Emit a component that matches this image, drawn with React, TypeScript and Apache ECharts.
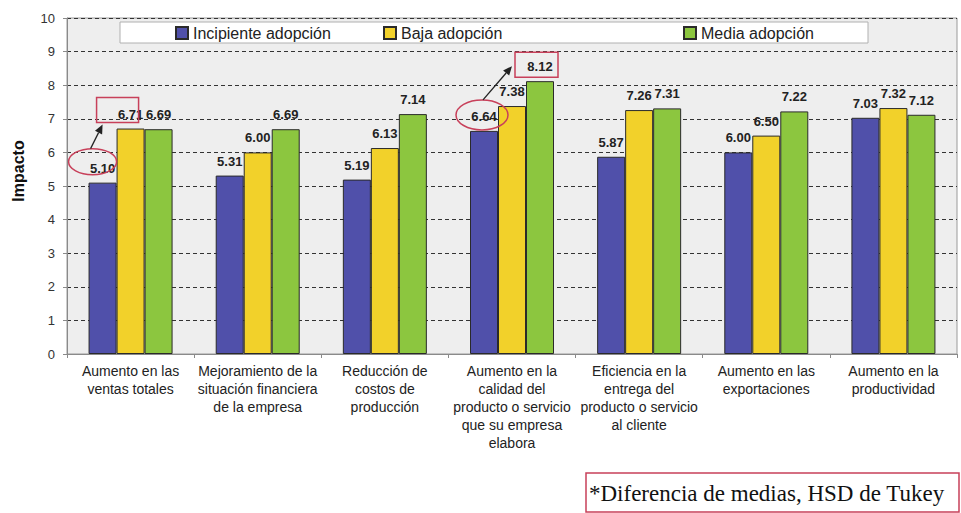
import React, { useEffect, useRef } from "react";
import * as echarts from "echarts";

const categories = [
  "Aumento en las\nventas totales",
  "Mejoramiento de la\nsituación financiera\nde la empresa",
  "Reducción de\ncostos de\nproducción",
  "Aumento en la\ncalidad del\nproducto o servicio\nque su empresa\nelabora",
  "Eficiencia en la\nentrega del\nproducto o servicio\nal cliente",
  "Aumento en las\nexportaciones",
  "Aumento en la\nproductividad",
];
const seriesNames = ["Incipiente adopción", "Baja adopción", "Media adopción"];
const incipiente = [5.1, 5.31, 5.19, 6.64, 5.87, 6.0, 7.03];
const baja = [6.71, 6.0, 6.13, 7.38, 7.26, 6.5, 7.32];
const media = [6.69, 6.69, 7.14, 8.12, 7.31, 7.22, 7.12];
const yMin = 0;
const yMax = 10;
const yInterval = 1;
const yAxisTitle = "Impacto";
const noteText = "*Diferencia de medias, HSD de Tukey";
// highlighted comparisons: [category index, from series, to series]
const highlights = [
  [0, 0, 1],
  [3, 0, 2],
];

const colors = ["#5050AA", "#F2D12A", "#8CC63F"];
const RED = "#C8405A";
const BAR_W = 28;

export default function App() {
  const ref = useRef<HTMLDivElement>(null);
  useEffect(() => {
    if (!ref.current) return;
    const chart = echarts.init(ref.current, undefined, { renderer: "svg" });
    const values = [incipiente, baja, media];
    const legendLefts = [175, 383, 683];
    chart.setOption({
      animation: false,
      grid: {
        left: 67,
        right: 4,
        top: 18,
        bottom: 159,
        show: true,
        backgroundColor: "#EEEEEE",
        borderColor: "#9A9A9A",
        borderWidth: 1,
      },
      legend: seriesNames.map((n, i) => ({
        data: [n],
        left: legendLefts[i],
        top: 25,
        padding: 0,
        icon: "rect",
        itemWidth: 12,
        itemHeight: 12,
        z: 5,
        textStyle: { fontFamily: "Arial, Liberation Sans", fontSize: 16, color: "#222" },
      })),
      xAxis: {
        type: "category",
        data: categories,
        axisLine: { lineStyle: { color: "#8A8A8A" } },
        axisTick: { show: true, length: 4, lineStyle: { color: "#8A8A8A" } },
        axisLabel: {
          interval: 0,
          margin: 8,
          fontFamily: "Arial, Liberation Sans",
          fontSize: 14,
          lineHeight: 18,
          color: "#222",
        },
      },
      yAxis: {
        type: "value",
        min: yMin,
        max: yMax,
        interval: yInterval,
        axisLine: { show: true, lineStyle: { color: "#8A8A8A" } },
        axisTick: { show: true, length: 4, lineStyle: { color: "#8A8A8A" } },
        axisLabel: { fontFamily: "Arial, Liberation Sans", fontSize: 13, color: "#333", margin: 12 },
        splitLine: { lineStyle: { color: "#333", type: [4, 3], width: 1 } },
      },
      series: seriesNames.map((n, i) => ({
        name: n,
        type: "bar",
        data: values[i],
        barWidth: BAR_W,
        barGap: "0%",
        itemStyle: { color: colors[i], borderColor: "#2A2A2A", borderWidth: 1 },
        label: {
          show: true,
          position: "top",
          distance: 8,
          formatter: (p: any) => Number(p.value).toFixed(2),
          fontFamily: "Arial, Liberation Sans",
          fontSize: 13,
          fontWeight: "bold",
          color: "#222",
        },
      })),
    });

    const px = (idx: number) => chart.convertToPixel({ xAxisIndex: 0 }, idx) as number;
    const py = (v: number) => chart.convertToPixel({ yAxisIndex: 0 }, v) as number;
    const barX = (cat: number, s: number) => px(cat) + (s - 1) * BAR_W;

    const arrow = (x1: number, y1: number, x2: number, y2: number) => {
      const a = Math.atan2(y2 - y1, x2 - x1);
      const L = 9;
      const W = 4;
      const bx = x2 - L * Math.cos(a);
      const by = y2 - L * Math.sin(a);
      return [
        { type: "line", z: 10, shape: { x1, y1, x2: bx, y2: by }, style: { stroke: "#222", lineWidth: 1.3 } },
        {
          type: "polygon",
          z: 10,
          shape: {
            points: [
              [x2, y2],
              [bx + W * Math.sin(a), by - W * Math.cos(a)],
              [bx - W * Math.sin(a), by + W * Math.cos(a)],
            ],
          },
          style: { fill: "#222" },
        },
      ];
    };

    const els: any[] = [
      {
        type: "rect",
        z: 3,
        shape: { x: 120, y: 22, width: 748, height: 21 },
        style: { fill: "#FFFFFF", stroke: "#B0B0B0", lineWidth: 1 },
      },
      {
        type: "text",
        x: 18,
        y: 171,
        rotation: Math.PI / 2,
        style: {
          text: yAxisTitle,
          fontFamily: "Arial, Liberation Sans",
          fontSize: 16,
          fontWeight: "bold",
          fill: "#111",
          align: "center",
          verticalAlign: "middle",
        },
      },
      {
        type: "rect",
        shape: { x: 586, y: 473, width: 373, height: 39 },
        style: { fill: "#FFFFFF", stroke: RED, lineWidth: 1.5 },
      },
      {
        type: "text",
        x: 589,
        y: 493,
        style: {
          text: noteText,
          fontFamily: "Liberation Serif, Times New Roman, serif",
          fontSize: 23,
          fill: "#111",
          align: "left",
          verticalAlign: "middle",
        },
      },
    ];

    highlights.forEach(([cat, s0, s1], k) => {
      const v0 = values[s0][cat];
      const v1 = values[s1][cat];
      const x0 = barX(cat, s0);
      const x1 = barX(cat, s1);
      const y0 = py(v0);
      const y1 = py(v1);
      const ex = k === 0 ? x0 - 10 : x0 - 2;
      const ey = k === 0 ? y0 - 21 : y0 - 16;
      const rx = k === 0 ? 24 : 26;
      const ry = k === 0 ? 13 : 15;
      els.push({
        type: "ellipse",
        z: 10,
        shape: { cx: ex, cy: ey, rx, ry },
        style: { fill: "none", stroke: RED, lineWidth: 1.5 },
      });
      const rL = k === 0 ? x1 - 34 : x1 - 25;
      const rW = k === 0 ? 42 : 43;
      const rT = y1 - (k === 0 ? 31 : 29);
      els.push({
        type: "rect",
        z: 10,
        shape: { x: rL, y: rT, width: rW, height: 25 },
        style: { fill: "none", stroke: RED, lineWidth: 1.5 },
      });
      const ax1 = k === 0 ? ex - 2 : ex + 1;
      const ay1 = ey - ry;
      const ax2 = k === 0 ? rL + 6 : rL - 3;
      const ay2 = k === 0 ? rT + 27 : rT + 14;
      els.push(...arrow(ax1, ay1, ax2, ay2));
    });

    chart.setOption({ graphic: { elements: els } });
    return () => chart.dispose();
  }, []);
  return (
    <div
      ref={ref}
      style={{ position: "fixed", left: 0, top: 0, width: 961, height: 513, background: "#fff" }}
    />
  );
}
